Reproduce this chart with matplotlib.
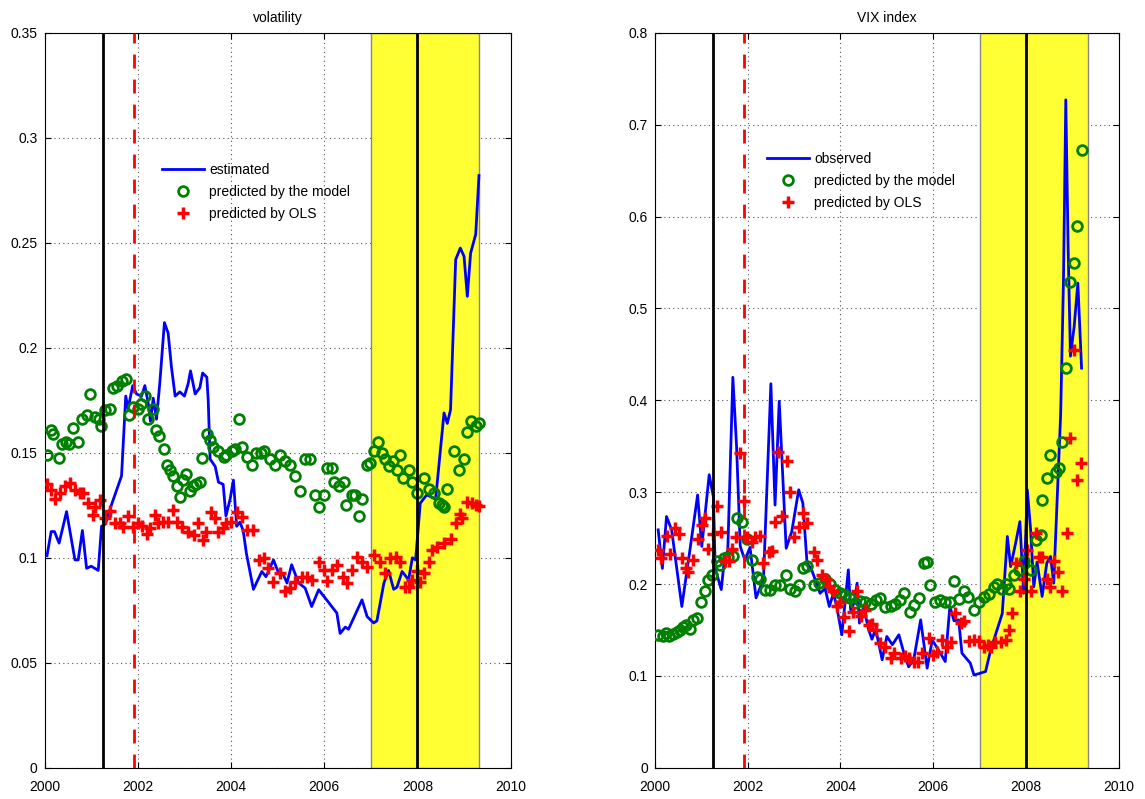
import matplotlib.pyplot as plt

plt.rcParams['font.family'] = ['Liberation Sans', 'DejaVu Sans']

# left panel: volatility (decimal years)
vol_t = [2000.05, 2000.14, 2000.21, 2000.31, 2000.47, 2000.65, 2000.72, 2000.81, 2000.90, 2001.00,
         2001.15, 2001.22, 2001.30, 2001.43, 2001.65, 2001.74, 2001.79, 2001.89, 2001.97, 2002.08,
         2002.15, 2002.22, 2002.27, 2002.33, 2002.40, 2002.47, 2002.57, 2002.65, 2002.72, 2002.80,
         2002.90, 2003.00, 2003.08, 2003.13, 2003.23, 2003.33, 2003.39, 2003.48, 2003.51, 2003.55,
         2003.66, 2003.73, 2003.83, 2003.89, 2003.98, 2004.05, 2004.12, 2004.19, 2004.26, 2004.33,
         2004.44, 2004.48, 2004.66, 2004.75, 2004.91, 2005.02, 2005.12, 2005.20, 2005.30, 2005.45,
         2005.59, 2005.73, 2005.88, 2006.05, 2006.20, 2006.27, 2006.34, 2006.45, 2006.52, 2006.63,
         2006.81, 2006.92, 2007.06, 2007.13, 2007.28, 2007.38, 2007.49, 2007.56, 2007.67, 2007.81,
         2007.89, 2007.96, 2007.99, 2008.06, 2008.20, 2008.39, 2008.57, 2008.64, 2008.71, 2008.82,
         2008.92, 2009.00, 2009.07, 2009.14, 2009.25, 2009.32]
vol_est = [0.101, 0.1125, 0.1125, 0.107, 0.122, 0.099, 0.099, 0.113, 0.095, 0.096,
           0.094, 0.115, 0.116, 0.125, 0.139, 0.177, 0.171, 0.182, 0.178, 0.177,
           0.182, 0.174, 0.165, 0.176, 0.166, 0.183, 0.212, 0.207, 0.191, 0.177,
           0.179, 0.177, 0.183, 0.189, 0.178, 0.181, 0.188, 0.186, 0.175, 0.147,
           0.1435, 0.136, 0.135, 0.120, 0.128, 0.137, 0.115, 0.117, 0.113, 0.102,
           0.0895, 0.085, 0.0935, 0.091, 0.099, 0.0927, 0.092, 0.088, 0.0967, 0.088,
           0.0856, 0.0768, 0.0848, 0.080, 0.0757, 0.0737, 0.064, 0.067, 0.066, 0.0713,
           0.080, 0.072, 0.069, 0.070, 0.088, 0.094, 0.085, 0.086, 0.0935, 0.0895,
           0.100, 0.099, 0.107, 0.126, 0.130, 0.128, 0.169, 0.164, 0.1705, 0.242,
           0.2475, 0.2435, 0.2245, 0.245, 0.254, 0.282]

vol_model_t = [2000.05, 2000.14, 2000.17, 2000.31, 2000.38, 2000.45, 2000.52, 2000.61, 2000.72, 2000.81,
               2000.90, 2000.98, 2001.08, 2001.16, 2001.21, 2001.29, 2001.40, 2001.47, 2001.56, 2001.65,
               2001.74, 2001.81, 2001.90, 2002.00, 2002.07, 2002.15, 2002.22, 2002.33, 2002.40, 2002.46,
               2002.56, 2002.62, 2002.69, 2002.76, 2002.83, 2002.90, 2002.97, 2003.04, 2003.11, 2003.18,
               2003.25, 2003.33, 2003.37, 2003.48, 2003.55, 2003.62, 2003.73, 2003.84, 2003.90, 2004.01,
               2004.08, 2004.16, 2004.24, 2004.34, 2004.44, 2004.53, 2004.64, 2004.71, 2004.84, 2004.95,
               2005.05, 2005.16, 2005.27, 2005.38, 2005.48, 2005.59, 2005.70, 2005.81, 2005.88, 2005.99,
               2006.06, 2006.17, 2006.20, 2006.31, 2006.42, 2006.47, 2006.60, 2006.67, 2006.74, 2006.81,
               2006.92, 2006.99, 2007.07, 2007.15, 2007.24, 2007.31, 2007.38, 2007.47, 2007.56, 2007.63,
               2007.70, 2007.81, 2007.89, 2007.99, 2008.13, 2008.24, 2008.35, 2008.46, 2008.53, 2008.57,
               2008.64, 2008.78, 2008.89, 2009.00, 2009.07, 2009.14, 2009.25, 2009.32]
vol_model = [0.149, 0.161, 0.159, 0.1475, 0.154, 0.155, 0.154, 0.162, 0.155, 0.166,
             0.168, 0.178, 0.167, 0.166, 0.163, 0.1705, 0.171, 0.181, 0.182, 0.184,
             0.185, 0.168, 0.172, 0.171, 0.173, 0.177, 0.166, 0.171, 0.161, 0.158,
             0.152, 0.144, 0.142, 0.139, 0.134, 0.129, 0.137, 0.140, 0.132, 0.134,
             0.135, 0.136, 0.1475, 0.159, 0.156, 0.153, 0.151, 0.148, 0.149, 0.151,
             0.152, 0.166, 0.153, 0.148, 0.144, 0.150, 0.150, 0.151, 0.147, 0.144,
             0.149, 0.146, 0.144, 0.139, 0.1316, 0.147, 0.147, 0.130, 0.124, 0.130,
             0.143, 0.143, 0.136, 0.134, 0.136, 0.125, 0.130, 0.130, 0.120, 0.128,
             0.144, 0.145, 0.151, 0.155, 0.150, 0.147, 0.1435, 0.146, 0.142, 0.149,
             0.138, 0.142, 0.136, 0.131, 0.138, 0.133, 0.131, 0.126, 0.125, 0.124,
             0.133, 0.151, 0.142, 0.147, 0.160, 0.165, 0.163, 0.164]

vol_ols_t = [2000.05, 2000.14, 2000.22, 2000.32, 2000.43, 2000.55, 2000.65, 2000.75, 2000.83, 2000.93,
             2001.04, 2001.07, 2001.18, 2001.29, 2001.40, 2001.50, 2001.61, 2001.68, 2001.79, 2001.90,
             2002.00, 2002.08, 2002.19, 2002.26, 2002.37, 2002.44, 2002.54, 2002.65, 2002.75, 2002.83,
             2002.94, 2003.08, 2003.20, 2003.29, 2003.40, 2003.47, 2003.58, 2003.65, 2003.72, 2003.83,
             2003.90, 2004.00, 2004.12, 2004.23, 2004.34, 2004.48, 2004.59, 2004.70, 2004.80, 2004.91,
             2005.06, 2005.16, 2005.27, 2005.38, 2005.52, 2005.63, 2005.74, 2005.88, 2006.00, 2006.06,
             2006.17, 2006.27, 2006.41, 2006.49, 2006.60, 2006.70, 2006.81, 2006.92, 2007.06, 2007.20,
             2007.31, 2007.42, 2007.53, 2007.63, 2007.74, 2007.81, 2007.89, 2007.99, 2008.06, 2008.13,
             2008.24, 2008.32, 2008.42, 2008.57, 2008.71, 2008.82, 2008.92, 2008.96, 2009.07, 2009.18,
             2009.25, 2009.32]
vol_ols = [0.135, 0.1325, 0.128, 0.131, 0.134, 0.1356, 0.1325, 0.131, 0.131, 0.126,
           0.1205, 0.124, 0.1276, 0.119, 0.1225, 0.1165, 0.1165, 0.1145, 0.1197, 0.1145,
           0.1165, 0.115, 0.1114, 0.114, 0.1205, 0.1165, 0.117, 0.117, 0.1229, 0.117,
           0.1145, 0.1125, 0.111, 0.1165, 0.1086, 0.1125, 0.122, 0.119, 0.1125, 0.114,
           0.1165, 0.117, 0.122, 0.1195, 0.1133, 0.1133, 0.099, 0.100, 0.095, 0.0887,
           0.093, 0.084, 0.0855, 0.0887, 0.091, 0.091, 0.0894, 0.0982, 0.094, 0.089,
           0.094, 0.0967, 0.091, 0.088, 0.094, 0.1006, 0.098, 0.0957, 0.1014, 0.098,
           0.0927, 0.0998, 0.1006, 0.098, 0.0863, 0.086, 0.0894, 0.0935, 0.0887, 0.093,
           0.0982, 0.1038, 0.105, 0.107, 0.109, 0.1165, 0.121, 0.119, 0.1268, 0.126,
           0.125, 0.1245]

# right panel: VIX index
vix_t = [2000.07, 2000.16, 2000.25, 2000.36, 2000.58, 2000.76, 2000.92, 2001.01, 2001.17, 2001.26,
         2001.30, 2001.43, 2001.51, 2001.57, 2001.68, 2001.76, 2001.84, 2001.94, 2002.05, 2002.18,
         2002.34, 2002.50, 2002.59, 2002.68, 2002.83, 2002.95, 2003.10, 2003.19, 2003.28, 2003.38,
         2003.56, 2003.67, 2003.76, 2003.85, 2003.92, 2004.03, 2004.17, 2004.22, 2004.30, 2004.36,
         2004.41, 2004.50, 2004.61, 2004.68, 2004.76, 2004.90, 2005.00, 2005.12, 2005.26, 2005.37,
         2005.47, 2005.58, 2005.73, 2005.87, 2005.98, 2006.13, 2006.26, 2006.36, 2006.45, 2006.55,
         2006.62, 2006.80, 2006.88, 2006.99, 2007.13, 2007.24, 2007.49, 2007.60, 2007.67, 2007.78,
         2007.87, 2007.95, 2008.03, 2008.10, 2008.17, 2008.24, 2008.35, 2008.45, 2008.53, 2008.60,
         2008.68, 2008.75, 2008.81, 2008.86, 2008.91, 2008.96, 2009.04, 2009.12, 2009.20]
vix_obs = [0.259, 0.217, 0.2735, 0.259, 0.1756, 0.239, 0.297, 0.241, 0.319, 0.295,
           0.217, 0.194, 0.233, 0.235, 0.425, 0.350, 0.241, 0.226, 0.240, 0.185,
           0.205, 0.418, 0.286, 0.399, 0.239, 0.257, 0.3026, 0.288, 0.2228, 0.2155,
           0.190, 0.195, 0.1756, 0.190, 0.1756, 0.1448, 0.2155, 0.172, 0.180, 0.201,
           0.1575, 0.175, 0.150, 0.140, 0.1512, 0.1176, 0.143, 0.134, 0.1448, 0.1247,
           0.110, 0.1176, 0.161, 0.1085, 0.139, 0.127, 0.1157, 0.1756, 0.160, 0.161,
           0.1248, 0.114, 0.101, 0.1026, 0.1048, 0.1284, 0.168, 0.2518, 0.219, 0.245,
           0.268, 0.190, 0.3026, 0.260, 0.197, 0.224, 0.1865, 0.2228, 0.230, 0.201,
           0.300, 0.386, 0.531, 0.727, 0.567, 0.448, 0.480, 0.5275, 0.435]

vix_model_t = [2000.07, 2000.18, 2000.24, 2000.30, 2000.40, 2000.47, 2000.54, 2000.61, 2000.68, 2000.76,
               2000.83, 2000.90, 2000.99, 2001.08, 2001.15, 2001.22, 2001.33, 2001.40, 2001.48, 2001.58,
               2001.69, 2001.76, 2001.87, 2001.98, 2002.09, 2002.20, 2002.27, 2002.38, 2002.49, 2002.59,
               2002.70, 2002.83, 2002.92, 2003.03, 2003.10, 2003.20, 2003.28, 2003.42, 2003.53, 2003.67,
               2003.78, 2003.89, 2004.00, 2004.10, 2004.21, 2004.32, 2004.43, 2004.54, 2004.66, 2004.77,
               2004.86, 2004.97, 2005.08, 2005.18, 2005.29, 2005.37, 2005.50, 2005.59, 2005.69, 2005.80,
               2005.87, 2005.94, 2006.05, 2006.15, 2006.26, 2006.36, 2006.44, 2006.56, 2006.66, 2006.76,
               2006.88, 2006.98, 2007.09, 2007.20, 2007.31, 2007.38, 2007.49, 2007.56, 2007.63, 2007.74,
               2007.85, 2007.96, 2008.10, 2008.22, 2008.32, 2008.35, 2008.46, 2008.53, 2008.64, 2008.71,
               2008.78, 2008.87, 2008.95, 2009.04, 2009.11, 2009.20]
vix_model = [0.145, 0.143, 0.147, 0.143, 0.146, 0.148, 0.150, 0.153, 0.155, 0.151,
             0.161, 0.163, 0.180, 0.192, 0.2046, 0.210, 0.2246, 0.221, 0.228, 0.229,
             0.231, 0.2717, 0.268, 0.249, 0.226, 0.208, 0.205, 0.194, 0.194, 0.199,
             0.199, 0.210, 0.195, 0.192, 0.1985, 0.2174, 0.2192, 0.199, 0.201, 0.206,
             0.200, 0.1937, 0.190, 0.188, 0.1847, 0.179, 0.182, 0.181, 0.178, 0.183,
             0.1847, 0.175, 0.176, 0.178, 0.183, 0.190, 0.170, 0.177, 0.1847, 0.2228,
             0.224, 0.199, 0.181, 0.183, 0.181, 0.181, 0.2028, 0.184, 0.192, 0.186,
             0.172, 0.180, 0.186, 0.1895, 0.197, 0.200, 0.195, 0.200, 0.195, 0.210,
             0.2156, 0.2246, 0.2156, 0.248, 0.2535, 0.2917, 0.315, 0.340, 0.322, 0.326,
             0.355, 0.435, 0.529, 0.549, 0.590, 0.672]

vix_ols_t = [2000.07, 2000.14, 2000.25, 2000.32, 2000.43, 2000.51, 2000.58, 2000.68, 2000.72, 2000.83,
             2000.92, 2001.01, 2001.08, 2001.15, 2001.26, 2001.33, 2001.43, 2001.51, 2001.59, 2001.67,
             2001.74, 2001.84, 2001.93, 2001.98, 2002.09, 2002.16, 2002.27, 2002.34, 2002.45, 2002.52,
             2002.59, 2002.66, 2002.75, 2002.84, 2002.92, 2003.00, 2003.10, 2003.20, 2003.28, 2003.42,
             2003.49, 2003.60, 2003.68, 2003.76, 2003.84, 2003.92, 2004.00, 2004.07, 2004.18, 2004.27,
             2004.36, 2004.45, 2004.53, 2004.61, 2004.68, 2004.76, 2004.86, 2004.97, 2005.08, 2005.16,
             2005.30, 2005.40, 2005.47, 2005.58, 2005.67, 2005.76, 2005.90, 2006.00, 2006.08, 2006.19,
             2006.29, 2006.39, 2006.48, 2006.59, 2006.66, 2006.77, 2006.87, 2006.99, 2007.09, 2007.18,
             2007.24, 2007.33, 2007.47, 2007.56, 2007.63, 2007.70, 2007.78, 2007.87, 2007.95, 2008.03,
             2008.10, 2008.21, 2008.28, 2008.35, 2008.45, 2008.53, 2008.60, 2008.69, 2008.78, 2008.88,
             2008.96, 2009.03, 2009.10, 2009.18]
vix_ols = [0.237, 0.228, 0.2518, 0.233, 0.261, 0.254, 0.228, 0.217, 0.213, 0.226,
           0.249, 0.2645, 0.272, 0.238, 0.255, 0.285, 0.257, 0.2246, 0.2246, 0.238,
           0.251, 0.3425, 0.290, 0.251, 0.246, 0.251, 0.252, 0.2228, 0.235, 0.236,
           0.268, 0.344, 0.274, 0.334, 0.3007, 0.251, 0.262, 0.277, 0.266, 0.2354,
           0.226, 0.210, 0.206, 0.198, 0.192, 0.1756, 0.180, 0.1647, 0.1484, 0.170,
           0.192, 0.165, 0.172, 0.1556, 0.157, 0.150, 0.1357, 0.132, 0.1194, 0.125,
           0.119, 0.122, 0.119, 0.1157, 0.1157, 0.1248, 0.141, 0.123, 0.126, 0.139,
           0.131, 0.137, 0.168, 0.158, 0.160, 0.1375, 0.1393, 0.1375, 0.132, 0.134,
           0.132, 0.137, 0.137, 0.1393, 0.150, 0.168, 0.2228, 0.192, 0.206, 0.237,
           0.192, 0.2555, 0.230, 0.230, 0.206, 0.197, 0.2246, 0.2126, 0.192, 0.2555,
           0.359, 0.455, 0.3135, 0.332]

recession = (2007.0, 2009.33)
black_lines = [2001.25, 2008.0]
red_line = 2001.92


def draw_panel(ax, t, obs, mt, model, ot, ols, line_label, title, ymax, yticks, ylabels, leg_pos):
    ax.set_axisbelow(True)
    ax.grid(True, linestyle=(0, (1, 3)), color='#555555', linewidth=0.8)
    ax.axvspan(recession[0], recession[1], facecolor='#ffff33', edgecolor='#888888', linewidth=1, zorder=1)
    ax.plot(t, obs, color='#0000ff', linewidth=2, label=line_label, zorder=3)
    ax.plot(mt, model, linestyle='none', marker='o', markersize=7, markerfacecolor='none',
            markeredgecolor='#008000', markeredgewidth=2, label='predicted by the model', zorder=4)
    ax.plot(ot, ols, linestyle='none', marker='+', markersize=8, markeredgecolor='#ff0000',
            markeredgewidth=2.5, label='predicted by OLS', zorder=5)
    for x in black_lines:
        ax.axvline(x, color='black', linewidth=2, zorder=6)
    ax.axvline(red_line, color='#ff0000', linewidth=2, linestyle=(0, (5, 4)), zorder=6)
    ax.set_xlim(2000, 2010)
    ax.set_ylim(0, ymax)
    ax.set_xticks(range(2000, 2011, 2))
    ax.set_yticks(yticks)
    ax.set_yticklabels(ylabels)
    ax.tick_params(direction='in', top=True, right=True, labelsize=10, length=4)
    ax.tick_params(axis='x', pad=9)
    ax.tick_params(axis='y', pad=5)
    ax.set_title(title, fontsize=10, pad=8)
    ax.legend(loc='upper left', bbox_to_anchor=leg_pos, frameon=False, fontsize=10,
              handlelength=3, labelspacing=0.55, handletextpad=0.4, borderaxespad=0)


fig = plt.figure(figsize=(11.45, 7.99), dpi=100)
ax1 = fig.add_axes([0.039, 0.039, 0.407, 0.92])
ax2 = fig.add_axes([0.572, 0.039, 0.405, 0.92])

draw_panel(ax1, vol_t, vol_est, vol_model_t, vol_model, vol_ols_t, vol_ols, 'estimated', 'volatility',
           0.35, [0, 0.05, 0.1, 0.15, 0.2, 0.25, 0.3, 0.35],
           ['0', '0.05', '0.1', '0.15', '0.2', '0.25', '0.3', '0.35'], (0.24, 0.83))
draw_panel(ax2, vix_t, vix_obs, vix_model_t, vix_model, vix_ols_t, vix_ols, 'observed', 'VIX index',
           0.8, [0, 0.1, 0.2, 0.3, 0.4, 0.5, 0.6, 0.7, 0.8],
           ['0', '0.1', '0.2', '0.3', '0.4', '0.5', '0.6', '0.7', '0.8'], (0.23, 0.845))

fig.savefig('out.png', dpi=100)
